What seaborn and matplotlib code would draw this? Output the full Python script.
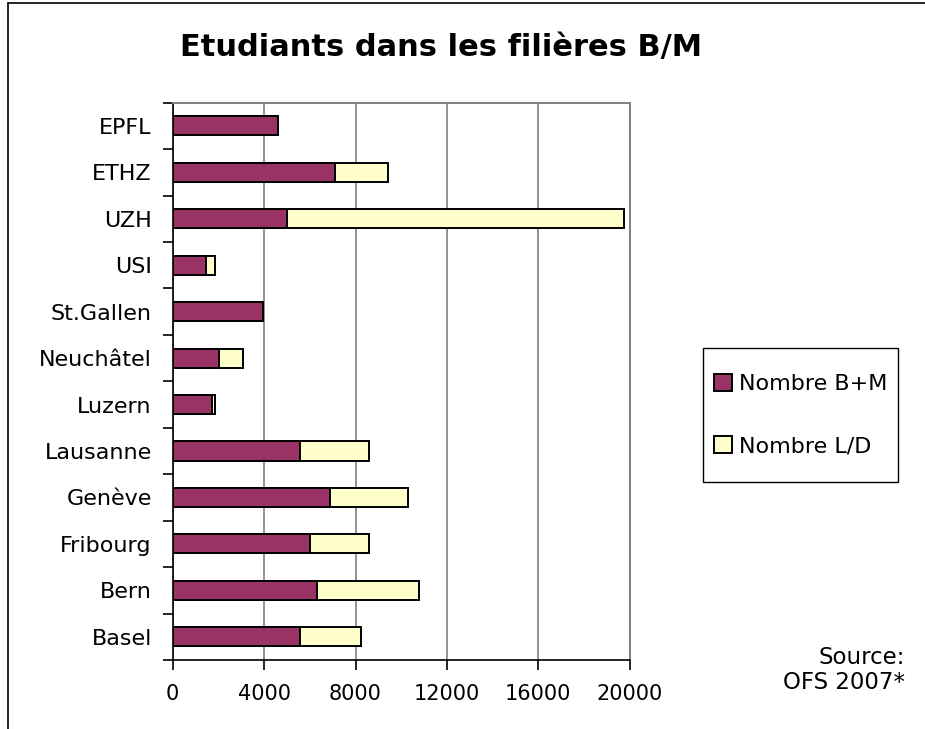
"""Etudiants dans les filières B/M"""
import matplotlib
matplotlib.use("Agg")
import matplotlib.pyplot as plt
import seaborn as sns
import pandas as pd
from matplotlib.patches import Patch, Rectangle
from matplotlib.lines import Line2D

universities = ["EPFL", "ETHZ", "UZH", "USI", "St.Gallen", "Neuchâtel", "Luzern",
                "Lausanne", "Genève", "Fribourg", "Bern", "Basel"]
nombre_bm = [4620, 7090, 5010, 1450, 3940, 2030, 1700, 5590, 6900, 6010, 6300, 5550]
nombre_ld = [0, 2330, 14730, 405, 0, 1030, 155, 3000, 3380, 2570, 4460, 2670]
x_ticks = [0, 4000, 8000, 12000, 16000, 20000]

df = pd.DataFrame({"Université": universities, "B+M": nombre_bm, "L/D": nombre_ld})
df["Total"] = df["B+M"] + df["L/D"]

PURPLE = "#993366"
YELLOW = "#FFFFCC"

sns.set_style("white")
plt.rcParams["font.family"] = ["DejaVu Sans"]
plt.rcParams["text.color"] = "black"
plt.rcParams["xtick.labelcolor"] = "black"
plt.rcParams["ytick.labelcolor"] = "black"

fig = plt.figure(figsize=(9.25, 7.29), dpi=100)
ax = fig.add_axes([0.1867, 0.0947, 0.4941, 0.7644])

# stacked bars: total underneath, B+M on top
sns.barplot(data=df, x="Total", y="Université", orient="h", color=YELLOW, saturation=1,
            edgecolor="black", linewidth=1.4, width=0.41, ax=ax, zorder=3)
sns.barplot(data=df, x="B+M", y="Université", orient="h", color=PURPLE, saturation=1,
            edgecolor="black", linewidth=1.4, width=0.41, ax=ax, zorder=4)

ax.set_xlim(0, 20000)
ax.set_ylim(len(universities) - 0.5, -0.5)
ax.set_xticks(x_ticks)
ax.set_xticklabels([str(t) for t in x_ticks])
ax.set_xlabel("")
ax.set_ylabel("")

ax.xaxis.grid(True, color="#808080", linewidth=1.2, zorder=0)
ax.set_axisbelow(True)

for side in ["left", "bottom"]:
    ax.spines[side].set_color("black")
    ax.spines[side].set_linewidth(1.2)
for side in ["top", "right"]:
    ax.spines[side].set_color("#808080")
    ax.spines[side].set_linewidth(1.4)

ax.tick_params(axis="y", which="major", length=0, pad=15, labelsize=16)
ax.set_yticks([i - 0.5 for i in range(len(universities) + 1)], minor=True)
ax.tick_params(axis="y", which="minor", length=7, width=1.2, color="black", direction="out", left=True)
ax.tick_params(axis="x", length=7, width=1.2, color="black", direction="out", bottom=True,
               pad=10, labelsize=15)

fig.text(0.477, 0.935, "Etudiants dans les filières B/M", fontsize=22, fontweight="bold",
         ha="center", va="center")

# legend without its own frame; box drawn separately to match the reference size
handles = [Patch(facecolor=PURPLE, edgecolor="black", linewidth=1.4, label="Nombre B+M"),
           Patch(facecolor=YELLOW, edgecolor="black", linewidth=1.4, label="Nombre L/D")]
fig.legend(handles=handles, loc="center", bbox_to_anchor=(0.8654, 0.4307),
           frameon=False, fontsize=16, handlelength=0.8, handleheight=0.8,
           handletextpad=0.3, labelspacing=1.9, borderpad=0, borderaxespad=0)
fig.add_artist(Rectangle((0.760, 0.339), 0.211, 0.184, transform=fig.transFigure,
                         fill=False, edgecolor="black", linewidth=1.0))

fig.text(0.978, 0.081, "Source:\nOFS 2007*", fontsize=16.5, ha="right", va="center",
         linespacing=1.1)

# outer frame (top and left edges visible)
fig.add_artist(Line2D([0.009, 1.0], [0.996, 0.996], color="black", linewidth=1.2,
                      transform=fig.transFigure))
fig.add_artist(Line2D([0.009, 0.009], [0.0, 0.996], color="black", linewidth=1.2,
                      transform=fig.transFigure))

fig.savefig("out.png", dpi=100)
